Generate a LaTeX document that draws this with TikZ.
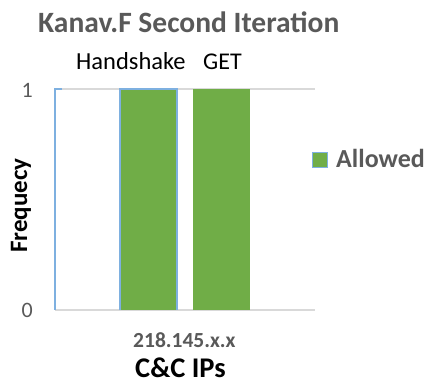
\documentclass[tikz,border=0pt]{standalone}
\usepackage{fontspec}
\setmainfont{Carlito}
\definecolor{barGreen}{HTML}{70AD47}
\definecolor{barBlue}{HTML}{7EB0E0}
\definecolor{gridGray}{HTML}{D9D9D9}
\definecolor{labelGray}{HTML}{595959}
\tikzset{
  bar/.style={fill=barGreen, draw=none},
  grid line/.style={draw=gridGray, line width=1.2pt},
  tick label/.style={anchor=base east, inner sep=0pt, text=labelGray, font=\fontsize{22}{24}\selectfont},
  plain label/.style={anchor=base west, inner sep=0pt},
}
\begin{document}
\begin{tikzpicture}[x=1pt,y=-1pt]
  \useasboundingbox (0,0) rectangle (430,383);
  % title
  \node[plain label, text=labelGray, font=\bfseries\fontsize{29.5}{31}\selectfont] (title) at (38,32) {Kanav.F Second Iteration};
  % bar captions
  \node[plain label, font=\fontsize{24.5}{26}\selectfont] (hs) at (76,69) {Handshake};
  \node[plain label, font=\fontsize{24}{26}\selectfont] (get) at (203,69) {GET};
  % gridline at 1 and axis at 0
  \coordinate (g1l) at (55,89);
  \coordinate (g1r) at (315,89);
  \coordinate (g0l) at (55,310);
  \coordinate (g0r) at (315,310);
  \draw[grid line] (g1l) -- (g1r);
  \draw[grid line] (g0l) -- (g0r);
  % tick labels
  \node[tick label] (t1) at (33,97) {1};
  \node[tick label] (t0) at (33,317) {0};
  % outline of the empty series
  \coordinate (e0) at (62,89);
  \draw[barBlue, line width=1.2pt] (e0) -- (g1l) -- (g0l);
  % bars
  \path[bar] (120,89) rectangle (177,310);
  \draw[barBlue, line width=1.2pt] (120,310) -- (120,89) -- (177,89) -- (177,310);
  \path[bar] (193,89) rectangle (250,310);
  % axis titles
  \node[plain label, text=labelGray, font=\bfseries\fontsize{21.5}{23}\selectfont] (ip) at (133,347) {218.145.x.x};
  \node[plain label, font=\bfseries\fontsize{28.5}{30}\selectfont] (xt) at (135,377) {C\&C IPs};
  \node[plain label, rotate=90, font=\bfseries\fontsize{25}{27}\selectfont] (yt) at (27,253) {Frequecy};
  % legend
  \draw[fill=barGreen, draw=barBlue, line width=1.2pt] (312.5,152.5) rectangle (327.5,167.5);
  \node[plain label, text=labelGray, font=\bfseries\fontsize{26}{28}\selectfont] (leg) at (336,167) {Allowed};
\end{tikzpicture}
\end{document}
